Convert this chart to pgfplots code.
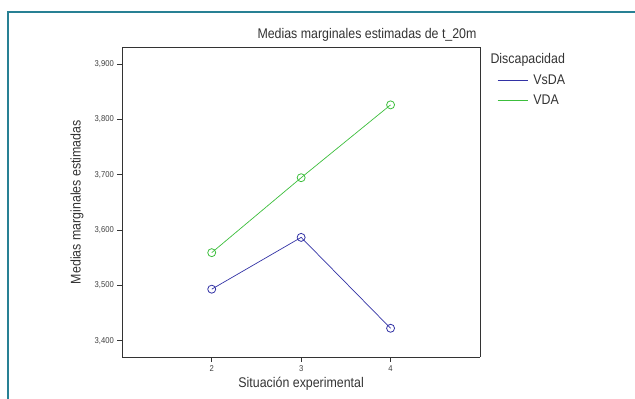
\documentclass[border=0pt]{standalone}
\usepackage{fontspec}
\setmainfont[FakeStretch=0.885]{Liberation Sans}
\newfontfamily\tickfont[FakeStretch=0.9]{Liberation Sans}
\usepackage{pgfplots}
\pgfplotsset{compat=1.18}
\definecolor{frameteal}{RGB}{40,128,148}
\definecolor{sblue}{RGB}{50,50,165}
\definecolor{sgreen}{RGB}{60,190,60}
\begin{document}
\begin{tikzpicture}[x=1pt,y=1pt]
\useasboundingbox (0,0) rectangle (635,399);
\draw[frameteal,line width=1.5pt] (8,-5) -- (8,387) -- (640,387);
\begin{axis}[
  at={(122.3pt,42pt)}, anchor=south west,
  scale only axis, width=357.7pt, height=309.7pt,
  xmin=1, xmax=5, ymin=3.3705, ymax=3.930,
  xtick={2,3,4}, ytick={3.4,3.5,3.6,3.7,3.8,3.9},
  tick align=outside, major tick length=5pt,
  tick style={black!80, line width=0.6pt},
  axis line style={black!80, line width=0.8pt},
  axis x line*=bottom, axis y line*=left,
  /pgf/number format/assume math mode=true,
  yticklabel style={/pgf/number format/.cd, fixed, fixed zerofill, precision=3, use comma, 1000 sep={}},
  ticklabel style={font=\tickfont\fontsize{8.5}{10}\selectfont, text=black!75},
  xticklabel style={/pgf/number format/.cd, fixed, precision=0},
  xlabel={Situación experimental},
  ylabel={Medias marginales estimadas},
  label style={font=\fontsize{14}{16}\selectfont, text=black!80},
  xlabel style={at={(axis description cs:0.5,0)}, anchor=center, yshift=-27pt},
  ylabel style={at={(axis description cs:0,0.5)}, anchor=center, yshift=45.3pt},
  legend style={draw=none, fill=none, at={(axis description cs:1,1)}, anchor=north west,
    xshift=17pt, yshift=-26pt, font=\fontsize{14}{16}\selectfont, text=black!80,
    row sep=6pt, inner sep=0pt, nodes={inner sep=1.5pt},
    /tikz/every odd column/.append style={column sep=4pt}},
  legend cell align=left,
  legend image code/.code={\draw[#1,mark=none] (0pt,0pt) -- (30pt,0pt);},
  clip=false,
]
\draw[black!80, line width=0.8pt] (rel axis cs:0,1) -- (rel axis cs:1,1) -- (rel axis cs:1,0);
\addplot[sblue, line width=0.7pt, mark=o, mark size=4pt, mark options={line width=0.8pt}] coordinates {(2,3.493) (3,3.5866) (4,3.4224)};
\addlegendentry{VsDA}
\addplot[sgreen, line width=0.7pt, mark=o, mark size=4pt, mark options={line width=0.8pt}] coordinates {(2,3.559) (3,3.6944) (4,3.826)};
\addlegendentry{VDA}
\end{axis}
\node[anchor=west, font=\fontsize{14}{16}\selectfont, text=black!80] at (487,339) {Discapacidad};
\node[font=\fontsize{14}{16}\selectfont, text=black!80] at (367,364) {Medias marginales estimadas de t\_20m};
\end{tikzpicture}
\end{document}
